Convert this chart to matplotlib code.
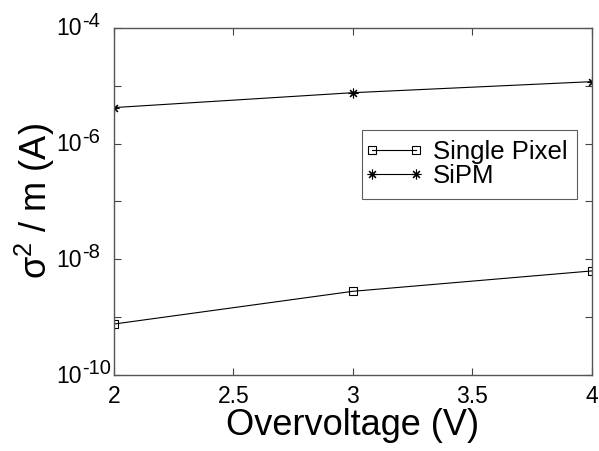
import matplotlib
matplotlib.use("Agg")
import matplotlib.pyplot as plt
from matplotlib.ticker import FixedLocator, FixedFormatter, NullFormatter
from matplotlib.legend_handler import HandlerLine2D

plt.rcParams["font.family"] = ["Liberation Sans", "DejaVu Sans"]
plt.rcParams["mathtext.fontset"] = "custom"
plt.rcParams["mathtext.rm"] = "Liberation Sans"
plt.rcParams["mathtext.it"] = "Liberation Sans:italic"

overvoltage = [2, 3, 4]
single_pixel = [7.6e-10, 2.8e-9, 6.3e-9]
sipm = [4.2e-6, 7.6e-6, 1.18e-5]

xticks = [2, 2.5, 3, 3.5, 4]
xtick_labels = ["2", "2.5", "3", "3.5", "4"]
yticks = [1e-10, 1e-9, 1e-8, 1e-7, 1e-6, 1e-5, 1e-4]
ylabel_vals = [1e-10, 1e-8, 1e-6, 1e-4]
ylabel_exps = ["-10", "-8", "-6", "-4"]

fig = plt.figure(figsize=(5.99, 4.51), dpi=100)
ax = fig.add_axes([0.190, 0.1685, 0.798, 0.7695])

ax.plot(overvoltage, single_pixel, color="black", lw=0.8, marker="s",
        ms=5.5, mfc="none", mec="black", mew=0.8, label="Single Pixel")
ax.plot(overvoltage, sipm, color="black", lw=0.8, marker=(8, 2, 0),
        ms=7, mfc="none", mec="black", mew=0.8, label="SiPM")

ax.set_yscale("log")
ax.set_xlim(2, 4)
ax.set_ylim(1e-10, 1e-4)
ax.xaxis.set_major_locator(FixedLocator(xticks))
ax.xaxis.set_major_formatter(FixedFormatter(xtick_labels))
ax.yaxis.set_major_locator(FixedLocator(yticks))
ax.yaxis.set_major_formatter(NullFormatter())
ax.yaxis.set_minor_locator(FixedLocator([]))
ax.tick_params(direction="in", length=5, width=0.8, color="#444444",
               labelsize=16.5, top=True, right=True)
ax.tick_params(axis="x", pad=7)
for s in ax.spines.values():
    s.set_color("#555555")
    s.set_linewidth(1.0)

# MATLAB-style decade labels: big superscript with a plain hyphen
for v, e in zip(ylabel_vals, ylabel_exps):
    ax.annotate("10", xy=(0, v), xycoords=("axes fraction", "data"),
                xytext=(-58, -1), textcoords="offset pixels",
                ha="left", va="center", fontsize=16.5, clip_on=False)
    ax.annotate(e, xy=(0, v), xycoords=("axes fraction", "data"),
                xytext=(-32, 1), textcoords="offset pixels",
                ha="left", va="baseline", fontsize=14.5, clip_on=False)

ax.set_xlabel("Overvoltage (V)", fontsize=26, labelpad=0)
ax.set_ylabel("σ$^2$ / m (A)", fontsize=26)
ax.yaxis.set_label_coords(-0.119, 0.5)

leg = ax.legend(loc="upper left", bbox_to_anchor=(0.519, 0.706), fontsize=18.5,
                numpoints=2, handlelength=1.7, frameon=True, fancybox=False,
                borderpad=0.4, labelspacing=0.0, handletextpad=0.65,
                borderaxespad=0,
                handler_map={l: HandlerLine2D(marker_pad=0) for l in ax.get_lines()})
leg.get_frame().set_edgecolor("#333333")
leg.get_frame().set_linewidth(0.8)

fig.savefig("out.png", dpi=100)
